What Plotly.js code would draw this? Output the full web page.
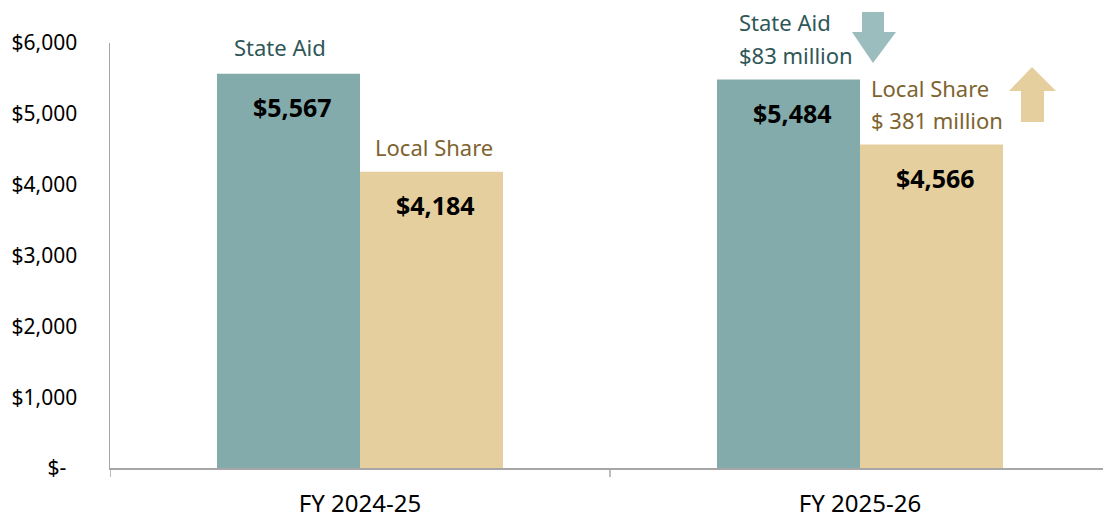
<!DOCTYPE html>
<html>
<head>
<meta charset="utf-8">
<script src="https://cdn.plot.ly/plotly-3.0.1.min.js"></script>
<style>html,body{margin:0;padding:0;background:#fff;}#chart{width:1103px;height:520px;}</style>
</head>
<body>
<div id="chart"></div>
<script>
const categories = ["FY 2024-25", "FY 2025-26"];
const stateAid = [5567, 5484];
const localShare = [4184, 4566];
const yTickVals = [0, 1000, 2000, 3000, 4000, 5000, 6000];
const yTickText = ["$-\u00a0\u00a0", "$1,000", "$2,000", "$3,000", "$4,000", "$5,000", "$6,000"];
const stateAidChange = "$83 million";
const localShareChange = "$ 381 million";

const TEAL = "#84ABAB", TAN = "#E5CF9E";
const TEAL_TXT = "#2F5758", TAN_TXT = "#7E6330";
const FONT = "Noto Sans, Open Sans, sans-serif";
const fmt = v => "$" + v.toLocaleString("en-US");
const YMAX = 6000;

const traces = [
  {type: "bar", name: "State Aid", x: [0, 1], y: stateAid, marker: {color: TEAL}, hoverinfo: "skip"},
  {type: "bar", name: "Local Share", x: [0, 1], y: localShare, marker: {color: TAN}, hoverinfo: "skip"}
];

const off = 0.143;
const annotations = [];
const valFont = {family: FONT, size: 25, color: "#000"};
for (let i = 0; i < categories.length; i++) {
  annotations.push({x: i - off, y: stateAid[i], xref: "x", yref: "y", text: "<b>" + fmt(stateAid[i]) + "</b>",
    showarrow: false, yanchor: "middle", yshift: -33, xshift: 4, font: valFont});
  annotations.push({x: i + off, y: localShare[i], xref: "x", yref: "y", text: "<b>" + fmt(localShare[i]) + "</b>",
    showarrow: false, yanchor: "middle", yshift: -33, xshift: 4, font: valFont});
}
const tealFont = {family: FONT, size: 22, color: TEAL_TXT};
const tanFont = {family: FONT, size: 22, color: TAN_TXT};
annotations.push({x: 0, y: stateAid[0], xref: "x", yref: "y", text: "State Aid", showarrow: false,
  xshift: -80, yshift: 27, yanchor: "middle", font: tealFont});
annotations.push({x: 0, y: localShare[0], xref: "x", yref: "y", text: "Local Share", showarrow: false,
  xshift: 74, yshift: 25, yanchor: "middle", font: tanFont});
annotations.push({x: 1, y: stateAid[1], xref: "x", yref: "y", text: "State Aid", showarrow: false,
  xanchor: "left", xshift: -123, yshift: 58, yanchor: "middle", font: tealFont});
annotations.push({x: 1, y: stateAid[1], xref: "x", yref: "y", text: stateAidChange, showarrow: false,
  xanchor: "left", xshift: -123, yshift: 25, yanchor: "middle", font: tealFont});
annotations.push({x: 1, y: localShare[1], xref: "x", yref: "y", text: "Local Share", showarrow: false,
  xanchor: "left", xshift: 9, yshift: 57, yanchor: "middle", font: tanFont});
annotations.push({x: 1, y: localShare[1], xref: "x", yref: "y", text: localShareChange, showarrow: false,
  xanchor: "left", xshift: 9, yshift: 25, yanchor: "middle", font: tanFont});

const shapes = [
  {type: "path", xref: "x", yref: "paper", xsizemode: "pixel", ysizemode: "pixel", xanchor: 1, yanchor: 1,
   path: "M 2 31 L 24 31 L 24 11 L 36 11 L 13 -20 L -8 11 L 2 11 Z", fillcolor: "#9BBDBD", line: {width: 0}},
  {type: "path", xref: "x", yref: "paper", xsizemode: "pixel", ysizemode: "pixel", xanchor: 1, yanchor: 1,
   path: "M 161 -79 L 184 -79 L 184 -48 L 196 -48 L 172 -24 L 149 -48 L 161 -48 Z", fillcolor: TAN, line: {width: 0}}
];
[-0.5, 0.5].forEach(b => shapes.push({type: "line", xref: "x", yref: "paper", x0: b, x1: b,
  ysizemode: "pixel", yanchor: 0, y0: 0, y1: -9, line: {color: "#A6A6A6", width: 1.5}}));

const layout = {
  width: 1103, height: 520,
  margin: {l: 110, r: 0, t: 43, b: 52},
  paper_bgcolor: "#fff", plot_bgcolor: "#fff",
  showlegend: false,
  barmode: "group", bargap: 0.428, bargroupgap: 0,
  font: {family: FONT, color: "#000"},
  xaxis: {
    type: "linear", range: [-0.5, 1.486], tickvals: [0, 1], ticktext: categories,
    showline: true, linecolor: "#A6A6A6", linewidth: 1.5, showgrid: false, zeroline: false,
    ticks: "", tickfont: {family: FONT, size: 24, color: "#000"}, ticklabelstandoff: 14, fixedrange: true
  },
  yaxis: {
    range: [0, YMAX], tickvals: yTickVals, ticktext: yTickText,
    showline: true, linecolor: "#A6A6A6", linewidth: 1.5, showgrid: false, zeroline: false,
    ticks: "", tickfont: {family: FONT, size: 21, color: "#000"}, ticklabelstandoff: 27, fixedrange: true
  },
  annotations: annotations,
  shapes: shapes
};

Plotly.newPlot("chart", traces, layout, {displayModeBar: false, staticPlot: true});
</script>
</body>
</html>
